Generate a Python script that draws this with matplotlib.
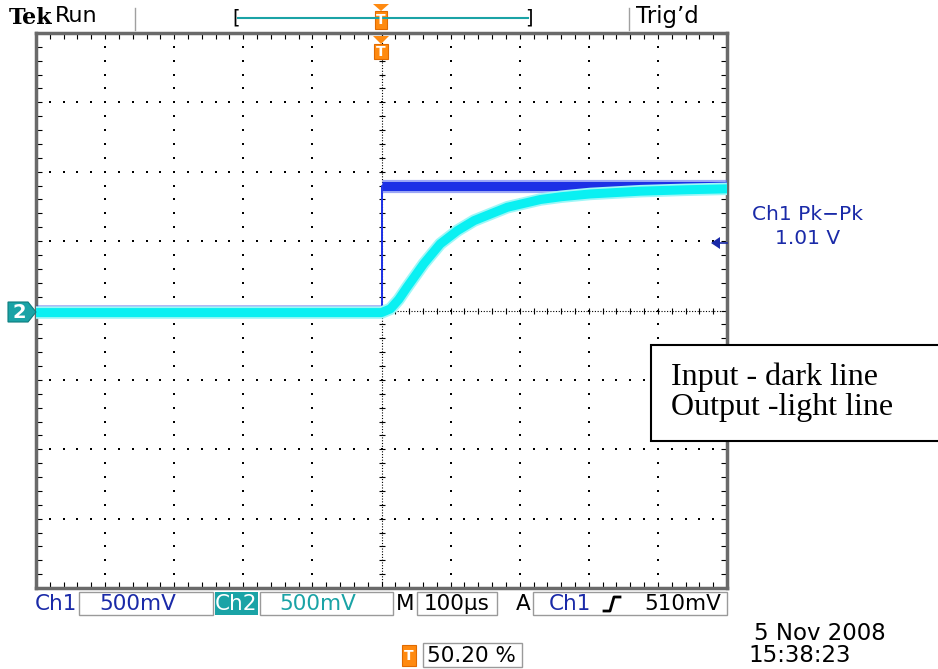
import numpy as np
import matplotlib
matplotlib.use('Agg')
import matplotlib.pyplot as plt
from matplotlib.patches import Rectangle, Polygon

# scope capture: time in microseconds from trigger, volts
t_in = [-500, 0, 0, 500]
v_in = [0.0, 0.0, 0.90, 0.90]

t_out = [-500, 0, 13, 25, 37, 61, 85, 110, 134, 160, 182, 230, 260, 302, 375, 440, 500]
v_out = [-0.015, -0.015, 0.012, 0.08, 0.168, 0.336, 0.48, 0.576, 0.648, 0.70,
         0.744, 0.80, 0.82, 0.84, 0.86, 0.87, 0.877]

time_per_div = 100   # us
volts_per_div = 0.5  # V

BLUE = '#1c30e6'
BLUE_TXT = '#1a2aa8'
CYAN = '#0af0f2'
TEAL = '#1aa3a6'
ORANGE = '#ff8a10'

W, H = 938, 669
fig = plt.figure(figsize=(W / 100, H / 100), dpi=100)
fig.patch.set_facecolor('white')

# graticule area in pixels
x0, x1, y0, y1 = 36, 727, 33, 588
ax = fig.add_axes([x0 / W, 1 - y1 / H, (x1 - x0) / W, (y1 - y0) / H], zorder=1)
ax.set_xlim(-5 * time_per_div, 5 * time_per_div)
ax.set_ylim(-4 * volts_per_div, 4 * volts_per_div)

# dotted grid lines
minor_y = np.arange(-4 * volts_per_div, 4 * volts_per_div + 1e-9, volts_per_div / 5)
minor_x = np.arange(-5 * time_per_div, 5 * time_per_div + 1e-9, time_per_div / 5)
for k in range(-4, 5):
    if k == 0:
        continue
    xm = k * time_per_div
    ax.plot([xm] * len(minor_y), minor_y, ls='none', marker='s', ms=1.5, mew=0, color='k')
for k in range(-3, 4):
    if k == 0:
        continue
    ym = k * volts_per_div
    ax.plot(minor_x, [ym] * len(minor_x), ls='none', marker='s', ms=1.5, mew=0, color='k')

# center cross with tick marks
ax.axhline(0, color='k', lw=0.8, ls=(0, (1, 1.5)))
ax.axvline(0, color='k', lw=0.8, ls=(0, (1, 1.5)))
ax.plot(minor_x, np.zeros_like(minor_x), ls='none', marker='|', ms=5, mew=0.8, color='k')
ax.plot(np.zeros_like(minor_y), minor_y, ls='none', marker='_', ms=5, mew=0.8, color='k')

ax.set_xticks(minor_x)
ax.set_yticks(minor_y)
ax.tick_params(which='both', direction='in', length=4, width=0.8, color='k',
               top=True, right=True, labelbottom=False, labelleft=False)
for s in ax.spines.values():
    s.set_color('#6a6a6a')
    s.set_linewidth(2.5)

# traces: ch1 (input, dark) and ch2 (output, light)
ax.plot(t_in, v_in, color=BLUE, lw=1.4, zorder=3)
ax.plot(t_in[:2], v_in[:2], color=BLUE, lw=9, alpha=0.45, solid_capstyle='butt', zorder=3)
ax.plot(t_in[2:], v_in[2:], color='#5a6cf0', lw=9.5, alpha=0.6, solid_capstyle='butt', zorder=3)
ax.plot(t_in[2:], v_in[2:], color=BLUE, lw=6.5, solid_capstyle='butt', zorder=3)

ax.plot(t_out, v_out, color='#9ff7f7', lw=9, solid_capstyle='butt', zorder=4)
ax.plot(t_out, v_out, color=CYAN, lw=6.5, solid_capstyle='butt', zorder=4)

# overlay in pixel coordinates for the scope readouts
ov = fig.add_axes([0, 0, 1, 1], zorder=2)
ov.set_xlim(0, W)
ov.set_ylim(H, 0)
ov.axis('off')
ov.patch.set_alpha(0)

sans = 'DejaVu Sans'
fs = 15.5


def orange_t(x, y, w, h, size=10):
    ov.add_patch(Rectangle((x, y), w, h, facecolor=ORANGE, edgecolor='#e06a00', lw=0.8))
    ov.text(x + w / 2, y + h / 2 + 0.5, 'T', color='white', fontsize=size, fontweight='bold',
            ha='center', va='center', family=sans)


# top bar
ov.text(9, 18, 'Tek', fontsize=16, fontweight='bold', family='DejaVu Serif',
        ha='left', va='center')
ov.text(55, 16, 'Run', fontsize=16, family=sans, ha='left', va='center')
ov.plot([135, 135], [8, 30], color='#a0a0a0', lw=1)
ov.plot([238, 528], [18, 18], color=TEAL, lw=1.5)
ov.text(232, 18, '[', fontsize=14, family=sans, ha='left', va='center')
ov.text(533, 18, ']', fontsize=14, family=sans, ha='right', va='center')
ov.add_patch(Polygon([(373, 4), (389, 4), (381, 11)], facecolor=ORANGE, edgecolor='none'))
orange_t(375, 11, 12, 18)
ov.plot([629, 629], [8, 30], color='#a0a0a0', lw=1)
ov.text(636, 16, 'Trig\u2019d', fontsize=16.5, family=sans, ha='left', va='center')

# trigger position marker under the top edge
ov.add_patch(Polygon([(373, 36), (389, 36), (381, 44)], facecolor=ORANGE, edgecolor='none'))
orange_t(374, 44, 14, 15)

# channel 2 ground marker
ov.add_patch(Polygon([(8, 302), (28, 302), (36, 312), (28, 322), (8, 322)],
                     facecolor=TEAL, edgecolor='#0d7c7e', lw=0.8))
ov.text(19, 312.5, '2', color='white', fontsize=14, fontweight='bold', family=sans,
        ha='center', va='center')

# trigger level arrow and measurement readout
ov.add_patch(Polygon([(711, 243), (720, 237), (720, 249)], facecolor=BLUE_TXT, edgecolor='none'))
ov.plot([718, 727], [243, 243], color=BLUE_TXT, lw=1.2)
ov.text(808, 215, 'Ch1 Pk\u2212Pk', color=BLUE_TXT, fontsize=14.5, family=sans,
        ha='center', va='center')
ov.text(808, 238, '1.01 V', color=BLUE_TXT, fontsize=14.5, family=sans,
        ha='center', va='center')

# legend note box
ov.add_patch(Rectangle((651, 345), 290, 96, facecolor='white', edgecolor='black', lw=1.5))
ov.text(671, 377, 'Input - dark line', fontsize=23, family='Liberation Serif',
        ha='left', va='center')
ov.text(671, 407, 'Output -light line', fontsize=23, family='Liberation Serif',
        ha='left', va='center')

# bottom readouts
by = 604
box_kw = dict(facecolor='white', edgecolor='#9a9a9a', lw=1)
ov.text(35, by, 'Ch1', color=BLUE_TXT, fontsize=fs, family=sans, ha='left', va='center')
ov.add_patch(Rectangle((79, 592), 134, 23, **box_kw))
ov.text(138, by, '500mV', color=BLUE_TXT, fontsize=fs, family=sans, ha='center', va='center')
ov.add_patch(Rectangle((215, 592), 43, 23, facecolor=TEAL, edgecolor='none'))
ov.text(236.5, by, 'Ch2', color='white', fontsize=fs, family=sans, ha='center', va='center')
ov.add_patch(Rectangle((260, 592), 133, 23, **box_kw))
ov.text(318, by, '500mV', color=TEAL, fontsize=fs, family=sans, ha='center', va='center')
ov.text(396, by, 'M', fontsize=fs, family=sans, ha='left', va='center')
ov.add_patch(Rectangle((417, 592), 80, 23, **box_kw))
ov.text(457, by, '100\u00b5s', fontsize=fs, family=sans, ha='center', va='center')
ov.text(516, by, 'A', fontsize=fs, family=sans, ha='left', va='center')
ov.add_patch(Rectangle((533, 592), 194, 23, **box_kw))
ov.text(549, by, 'Ch1', color=BLUE_TXT, fontsize=fs, family=sans, ha='left', va='center')
ov.plot([604, 610, 614, 620], [611, 611, 597, 597], color='black', lw=2)
ov.text(721, by, '510mV', fontsize=fs, family=sans, ha='right', va='center')

orange_t(402, 645, 14, 21)
ov.add_patch(Rectangle((423, 643), 99, 24, **box_kw))
ov.text(427, 656, '50.20 %', fontsize=fs, family=sans, ha='left', va='center')
ov.text(886, 634, '5 Nov 2008', fontsize=16.5, family=sans, ha='right', va='center')
ov.text(851, 656, '15:38:23', fontsize=16.5, family=sans, ha='right', va='center')

fig.savefig('out.png', dpi=100, facecolor='white')
